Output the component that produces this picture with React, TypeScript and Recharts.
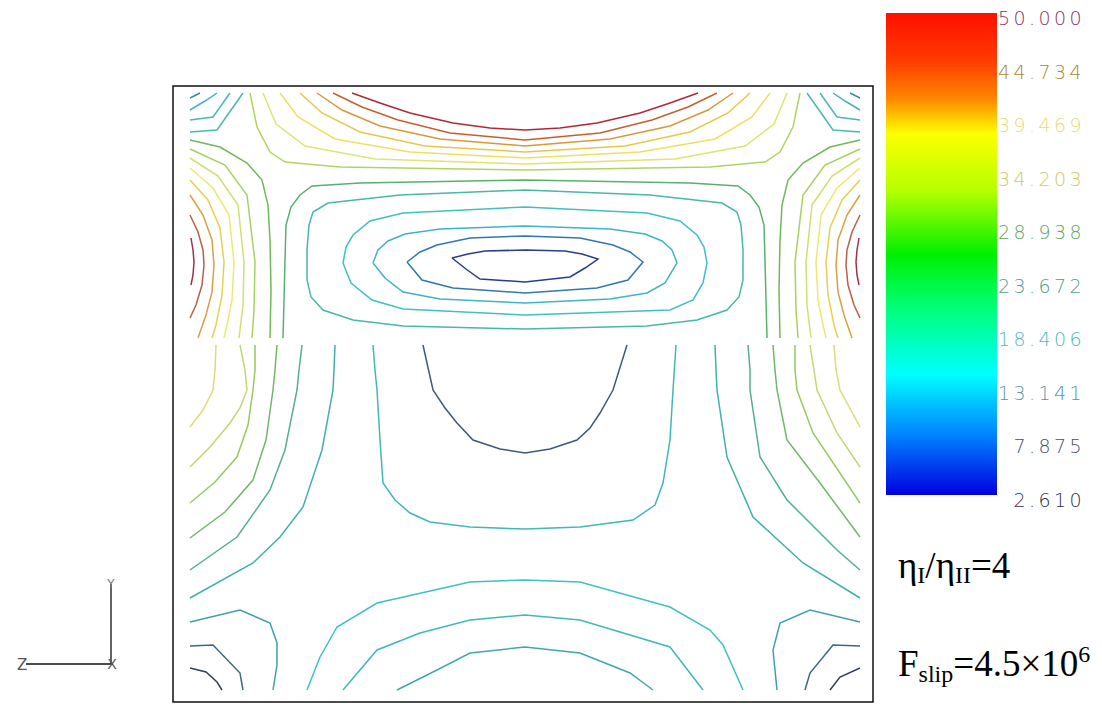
import { LineChart, Line, XAxis, YAxis, ReferenceArea, ComposedChart, Scatter } from 'recharts';

// contour polylines (plot frame units: x 173..873, y 86..702 top-down)
const cTL1 = [[190, 98], [200, 93]];
const cTL2 = [[190, 110], [205, 101], [217, 93]];
const cTL3 = [[190, 120], [213, 117], [230, 93]];
const cTL4 = [[190, 132], [217, 130], [243, 93]];
const cTR1 = [[860, 98], [850, 93]];
const cTR2 = [[860, 110], [845, 101], [833, 93]];
const cTR3 = [[860, 120], [837, 117], [820, 93]];
const cTR4 = [[860, 132], [833, 130], [807, 93]];

const k0 = [[352, 93], [380, 103], [410, 113], [453, 123], [490, 128], [525, 130], [560, 128], [597, 123], [640, 113], [670, 103], [698, 93]];
const k1 = [[333, 93], [362, 107], [398, 120], [450, 133], [525, 140], [600, 133], [652, 120], [688, 107], [717, 93]];
const k2 = [[317, 93], [342, 110], [380, 126], [440, 139], [525, 146], [610, 139], [670, 126], [708, 110], [733, 93]];
const k3 = [[300, 93], [322, 113], [360, 132], [425, 146], [525, 152], [625, 146], [690, 132], [728, 113], [750, 93]];
const k4 = [[280, 93], [298, 117], [335, 139], [410, 152], [525, 158], [640, 152], [715, 139], [752, 117], [770, 93]];
const k5 = [[263, 93], [276, 124], [305, 146], [375, 159], [525, 164], [675, 159], [745, 146], [774, 124], [787, 93]];
const k6 = [[250, 93], [257, 127], [270, 152], [285, 162], [340, 167], [525, 170], [710, 167], [765, 162], [780, 152], [793, 127], [800, 93]];

const g1 = [[283, 338], [284, 300], [285, 260], [286, 225], [291, 207], [300, 195], [312, 186], [360, 183], [525, 180], [690, 183], [738, 186], [750, 195], [759, 207], [764, 225], [765, 260], [766, 300], [767, 338]];
const e4 = [[313, 212], [309, 225], [307, 250], [307, 280], [311, 297], [323, 310], [353, 320], [403, 326], [525, 329], [647, 326], [697, 320], [727, 310], [739, 297], [743, 280], [743, 250], [741, 225], [737, 212], [722, 203], [650, 195], [525, 190], [400, 195], [328, 203], [313, 212]];
const e3 = [[343, 263], [346, 247], [353, 235], [370, 221], [403, 213], [525, 207], [647, 213], [680, 221], [697, 235], [704, 247], [707, 263], [703, 283], [693, 300], [670, 310], [525, 315], [403, 309], [372, 300], [351, 283], [343, 263]];
const e2 = [[373, 263], [378, 250], [388, 241], [405, 234], [440, 229], [525, 226], [610, 229], [645, 234], [662, 241], [672, 250], [677, 263], [665, 283], [647, 293], [610, 299], [525, 303], [440, 299], [403, 292], [385, 278], [373, 263]];
const e1 = [[407, 262], [420, 252], [437, 245], [470, 238], [525, 236], [580, 238], [613, 245], [630, 252], [643, 262], [628, 280], [597, 288], [525, 293], [453, 288], [422, 280], [407, 262]];
const e0 = [[452, 258], [468, 254], [485, 251], [525, 250], [565, 251], [582, 254], [598, 259], [585, 268], [570, 277], [525, 282], [480, 279], [466, 269], [452, 258]];

const l0 = [[191, 238], [193, 250], [194, 262], [193, 275], [191, 285]];
const l1 = [[190, 215], [198, 232], [203, 250], [204, 265], [202, 285], [196, 305], [190, 318]];
const l2 = [[190, 195], [203, 215], [212, 240], [214, 265], [212, 292], [206, 315], [198, 338]];
const l3 = [[190, 180], [208, 200], [220, 228], [224, 262], [222, 295], [216, 325], [212, 338]];
const l4 = [[190, 168], [213, 188], [229, 215], [234, 262], [232, 300], [227, 325], [224, 338]];
const l5 = [[190, 158], [218, 176], [238, 205], [244, 262], [243, 305], [239, 338]];
const l6 = [[190, 149], [225, 165], [247, 195], [255, 262], [254, 310], [252, 338]];
const g0 = [[190, 140], [220, 147], [247, 163], [262, 180], [268, 205], [270, 240], [271, 290], [270, 338]];

const r0 = [[859, 238], [857, 250], [856, 262], [857, 275], [859, 285]];
const r1 = [[860, 215], [852, 232], [847, 250], [846, 265], [848, 285], [854, 305], [860, 318]];
const r2 = [[860, 195], [847, 215], [838, 240], [836, 265], [838, 292], [844, 315], [852, 338]];
const r3 = [[860, 180], [842, 200], [830, 228], [826, 262], [828, 295], [834, 325], [838, 338]];
const r4 = [[860, 168], [837, 188], [821, 215], [816, 262], [818, 300], [823, 325], [826, 338]];
const r5 = [[860, 158], [832, 176], [812, 205], [806, 262], [807, 305], [811, 338]];
const r6 = [[860, 149], [825, 165], [803, 195], [795, 262], [796, 310], [798, 338]];
const g0r = [[860, 140], [830, 147], [803, 163], [788, 180], [782, 205], [780, 240], [779, 290], [780, 338]];

const a1 = [[216, 345], [215, 370], [213, 390], [203, 410], [190, 427]];
const a2 = [[240, 345], [245, 370], [247, 390], [240, 408], [230, 423], [210, 447], [190, 467]];
const a3 = [[255, 345], [255, 370], [253, 390], [248, 425], [237, 457], [215, 482], [190, 503]];
const a4 = [[277, 345], [275, 370], [273, 390], [266, 440], [253, 480], [225, 512], [190, 538]];
const a5 = [[302, 345], [299, 370], [297, 390], [285, 450], [270, 490], [237, 537], [190, 570]];
const a6 = [[335, 345], [334, 370], [333, 390], [322, 450], [303, 507], [280, 537], [253, 563], [190, 598]];
const a1r = [[834, 345], [836, 370], [840, 390], [860, 427]];
const a2r = [[810, 345], [814, 370], [817, 390], [837, 433], [860, 467]];
const a3r = [[795, 345], [795, 370], [797, 390], [813, 433], [860, 503]];
const a4r = [[773, 345], [775, 370], [777, 390], [787, 440], [820, 483], [860, 537]];
const a5r = [[748, 345], [750, 370], [750, 390], [760, 457], [787, 500], [837, 550], [860, 570]];
const a6r = [[715, 345], [716, 370], [717, 390], [727, 457], [753, 517], [803, 563], [860, 598]];

const v7 = [[373, 345], [375, 370], [377, 390], [380, 440], [383, 483], [395, 500], [410, 513], [430, 522], [470, 527], [525, 529], [580, 527], [633, 520], [655, 505], [663, 483], [670, 440], [673, 390], [676, 345]];
const u0 = [[423, 345], [433, 390], [445, 408], [457, 423], [473, 440], [500, 449], [525, 453], [550, 449], [577, 440], [590, 428], [600, 413], [613, 390], [627, 345]];

const b1 = [[190, 622], [240, 610], [270, 623], [277, 643], [277, 665], [273, 690]];
const b2 = [[190, 646], [213, 645], [240, 673], [243, 690]];
const b3 = [[190, 668], [206, 672], [217, 682], [222, 690]];
const b1r = [[860, 622], [810, 610], [780, 623], [773, 650], [777, 690]];
const b2r = [[860, 646], [833, 645], [810, 673], [805, 690]];
const b3r = [[860, 668], [840, 677], [830, 690]];
const h1 = [[307, 690], [320, 657], [337, 627], [377, 603], [470, 582], [525, 580], [580, 582], [670, 607], [710, 630], [723, 645], [743, 690]];
const h2 = [[343, 690], [377, 650], [420, 633], [470, 620], [525, 615], [580, 620], [670, 647], [703, 690]];
const h3 = [[397, 690], [437, 670], [470, 653], [525, 647], [580, 653], [630, 673], [653, 690]];

// colour bar
const barTicks = [50.0, 44.734, 39.469, 34.203, 28.938, 23.672, 18.406, 13.141, 7.875, 2.61];
const barTickColors = ['#8a3060', '#a88838', '#e4dc78', '#cccc60', '#58a858', '#4aa088', '#50b8c0', '#5098a8', '#405070', '#303050'];

const toPts = (a: number[][]) => a.map(([x, y]) => ({ x, y }));

const contours: { data: number[][]; color: string }[] = [
  { data: cTL1, color: '#3a8a9a' }, { data: cTL2, color: '#48b0b8' }, { data: cTL3, color: '#48b8b8' }, { data: cTL4, color: '#48b8b0' },
  { data: cTR1, color: '#3a8a9a' }, { data: cTR2, color: '#48b0b8' }, { data: cTR3, color: '#48b8b8' }, { data: cTR4, color: '#48b8b0' },
  { data: k0, color: '#b02838' }, { data: k1, color: '#c46030' }, { data: k2, color: '#d89838' }, { data: k3, color: '#e6c848' },
  { data: k4, color: '#eee060' }, { data: k5, color: '#dce670' }, { data: k6, color: '#b0d460' },
  { data: g1, color: '#58b070' }, { data: e4, color: '#48b8a8' }, { data: e3, color: '#40c0c0' }, { data: e2, color: '#40b4c4' },
  { data: e1, color: '#3078b0' }, { data: e0, color: '#283c90' },
  { data: l0, color: '#a03048' }, { data: l1, color: '#b86048' }, { data: l2, color: '#d8a040' }, { data: l3, color: '#e6d050' },
  { data: l4, color: '#eee870' }, { data: l5, color: '#d0e070' }, { data: l6, color: '#a8d060' }, { data: g0, color: '#70b858' },
  { data: r0, color: '#a03048' }, { data: r1, color: '#b86048' }, { data: r2, color: '#d8a040' }, { data: r3, color: '#e6d050' },
  { data: r4, color: '#eee870' }, { data: r5, color: '#d0e070' }, { data: r6, color: '#a8d060' }, { data: g0r, color: '#70b858' },
  { data: a1, color: '#dcdc78' }, { data: a2, color: '#c4d870' }, { data: a3, color: '#98c860' }, { data: a4, color: '#70b868' },
  { data: a5, color: '#50b090' }, { data: a6, color: '#40b0a8' },
  { data: a1r, color: '#dcdc78' }, { data: a2r, color: '#c4d870' }, { data: a3r, color: '#98c860' }, { data: a4r, color: '#70b868' },
  { data: a5r, color: '#50b090' }, { data: a6r, color: '#40b0a8' },
  { data: v7, color: '#40b8b8' }, { data: u0, color: '#405878' },
  { data: b1, color: '#40a0a8' }, { data: b2, color: '#3a6a80' }, { data: b3, color: '#304058' },
  { data: b1r, color: '#40a0a8' }, { data: b2r, color: '#3a6a80' }, { data: b3r, color: '#304058' },
  { data: h1, color: '#40c0c0' }, { data: h2, color: '#40b8b8' }, { data: h3, color: '#40a8a8' },
];

const BarTick = (props: any) => {
  const { x, y, payload, index } = props;
  return (
    <text x={x + 88} y={y} textAnchor="end" dominantBaseline="central" fontSize={19} letterSpacing={3.4}
      fontFamily='"DejaVu Sans", sans-serif' fontWeight={200} fill={barTickColors[index] ?? '#555'}>
      {payload.value.toFixed(3)}
    </text>
  );
};

export default function App() {
  return (
    <div style={{ position: 'absolute', left: 0, top: 0, width: 1102, height: 722, background: '#fff' }}>
      <div style={{ position: 'absolute', left: 0, top: 0 }}>
        <LineChart width={1102} height={722} margin={{ top: 86, left: 173, right: 229, bottom: 20 }}>
          <XAxis type="number" dataKey="x" domain={[173, 873]} hide allowDataOverflow />
          <YAxis type="number" dataKey="y" domain={[86, 702]} reversed hide allowDataOverflow />
          {contours.map((c, i) => (
            <Line key={i} data={toPts(c.data)} dataKey="y" type="linear" stroke={c.color} strokeWidth={1.5}
              dot={false} activeDot={false} isAnimationActive={false} />
          ))}
          <ReferenceArea x1={173} x2={873} y1={86} y2={702} fill="none" stroke="#111" strokeWidth={1.5} ifOverflow="visible" />
        </LineChart>
      </div>

      <div style={{ position: 'absolute', left: 870, top: 0 }}>
        <ComposedChart width={232} height={520} margin={{ top: 18, left: 16, right: 15, bottom: 20 }}>
          <defs>
            <linearGradient id="cbar" x1="0" y1="0" x2="0" y2="1">
              <stop offset="0%" stopColor="#ff1000" />
              <stop offset="10%" stopColor="#ff3c00" />
              <stop offset="18%" stopColor="#ff8a00" />
              <stop offset="25%" stopColor="#ffff00" />
              <stop offset="37%" stopColor="#b4ff00" />
              <stop offset="50%" stopColor="#00f000" />
              <stop offset="62%" stopColor="#00ff80" />
              <stop offset="75%" stopColor="#00ffff" />
              <stop offset="87%" stopColor="#0088ff" />
              <stop offset="100%" stopColor="#0000e0" />
            </linearGradient>
          </defs>
          <XAxis type="number" dataKey="x" domain={[0, 1]} hide allowDataOverflow />
          <YAxis type="number" dataKey="v" orientation="right" domain={[2.61, 50]} ticks={barTicks} interval={0}
            axisLine={false} tickLine={false} tickSize={0} tickMargin={0} width={90} tick={<BarTick />} allowDataOverflow />
          <ReferenceArea x1={0} x2={1} y1={3.1} y2={50.49} fill="url(#cbar)" fillOpacity={1} stroke="none" ifOverflow="visible" />
          <Scatter data={barTicks.map(v => ({ x: 0.5, v }))} dataKey="v" fill="none" shape={() => null} isAnimationActive={false} />
        </ComposedChart>
      </div>

      <svg style={{ position: 'absolute', left: 0, top: 0 }} width={180} height={722}>
        <line x1={111} y1={584} x2={111} y2={664} stroke="#111" strokeWidth={1.3} />
        <line x1={26} y1={664} x2={111} y2={664} stroke="#111" strokeWidth={1.3} />
        <text x={111} y={588} fontSize={12} fill="#777" textAnchor="middle" fontFamily="DejaVu Sans">Y</text>
        <text x={17} y={670} fontSize={15} fill="#555" fontFamily="DejaVu Sans">Z</text>
        <text x={112} y={669} fontSize={14} fill="#555" textAnchor="middle" fontFamily="DejaVu Sans">X</text>
      </svg>

      <div style={{ position: 'absolute', left: 898, top: 547, fontFamily: '"Liberation Serif", serif', fontSize: 37, lineHeight: '37px', color: '#000', whiteSpace: 'nowrap' }}>
        η<span style={{ fontSize: 24, position: 'relative', top: 5 }}>I</span>/η<span style={{ fontSize: 24, position: 'relative', top: 5 }}>II</span>=4
      </div>
      <div style={{ position: 'absolute', left: 898, top: 645, fontFamily: '"Liberation Serif", serif', fontSize: 37, lineHeight: '37px', color: '#000', whiteSpace: 'nowrap' }}>
        F<span style={{ fontSize: 24, position: 'relative', top: 6 }}>slip</span>=4.5×10<span style={{ fontSize: 24, position: 'relative', top: -14 }}>6</span>
      </div>
    </div>
  );
}
